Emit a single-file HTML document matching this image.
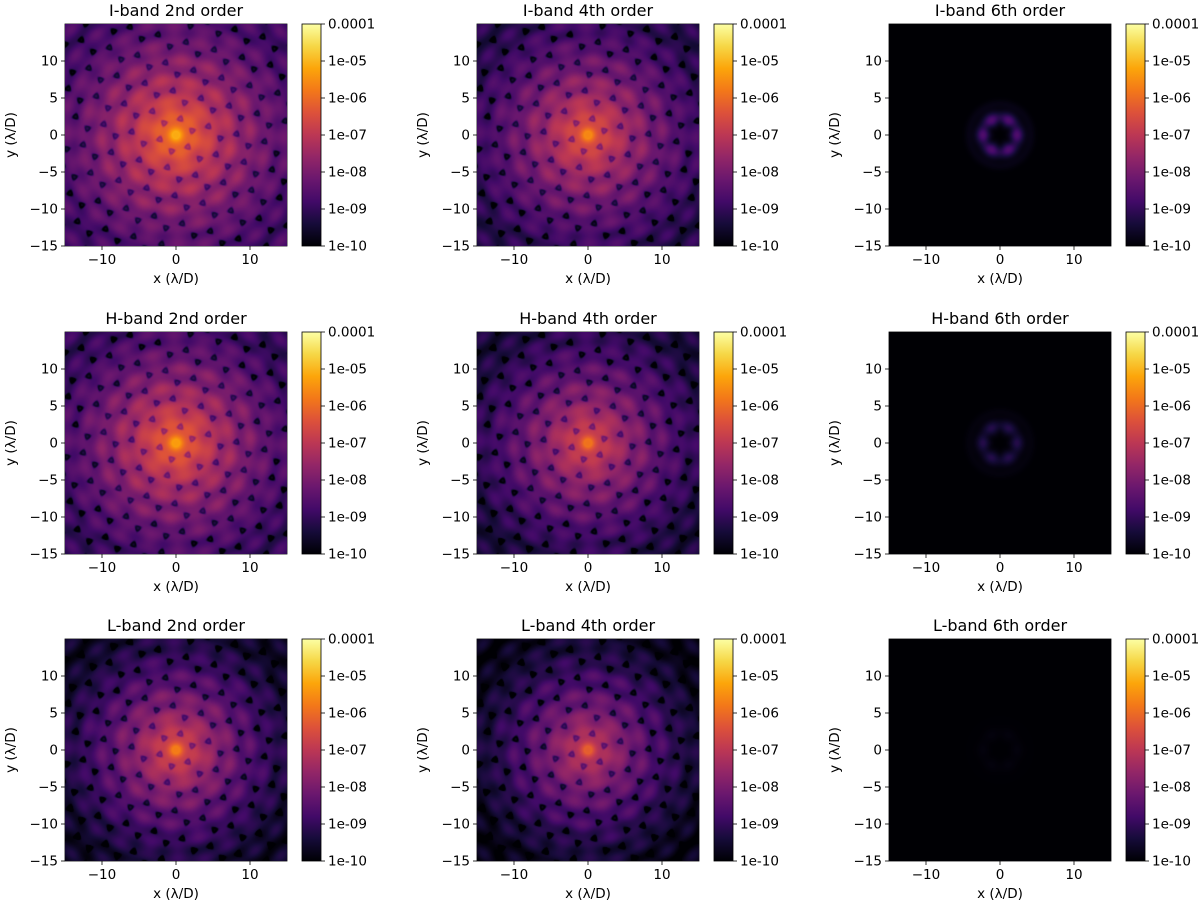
<!DOCTYPE html>
<html><head><meta charset="utf-8">
<style>
body{margin:0;background:#fff;width:1200px;height:907px;overflow:hidden;position:relative;font-family:"DejaVu Sans","Liberation Sans",sans-serif}
canvas{position:absolute}
svg{position:absolute;left:0;top:0}
</style></head>
<body>
<svg id="ov" width="1200" height="907"></svg>
<script>
// panel data
const titles=["I-band 2nd order","I-band 4th order","I-band 6th order","H-band 2nd order","H-band 4th order","H-band 6th order","L-band 2nd order","L-band 4th order","L-band 6th order"];
const centerLog=[-4.5,-5.0,-10,-4.7,-5.3,-10,-5.1,-5.6,-10];
const edgeLog=[-8.5,-8.9,-10,-8.7,-9.1,-10,-9.3,-9.5,-10];
const ringLog=[0,0,-8.6,0,0,-9.2,0,0,-9.9];
const xTicks=[-10,0,10];
const yTicks=[10,5,0,-5,-10,-15];
const cbTicks=["0.0001","1e-05","1e-06","1e-07","1e-08","1e-09","1e-10"];
const colLeft=[65,477,889], rowTop=[24,332,639], S=222;
const infStops=[[0,0,4],[22,11,57],[66,10,104],[106,23,110],[147,38,103],[188,55,84],[221,81,58],[243,120,25],[252,165,10],[246,215,70],[252,255,164]];
function inferno(t){t=Math.max(0,Math.min(1,t));const f=t*10,i=Math.min(9,Math.floor(f)),u=f-i,a=infStops[i],b=infStops[i+1];return [a[0]+(b[0]-a[0])*u,a[1]+(b[1]-a[1])*u,a[2]+(b[2]-a[2])*u];}
const xs=v=>(v+15)/30*S, ys=v=>(15-v)/30*S;
const NS="http://www.w3.org/2000/svg", ov=document.getElementById('ov');
function el(tag,attrs,txt){const e=document.createElementNS(NS,tag);for(const k in attrs)e.setAttribute(k,attrs[k]);if(txt!==undefined)e.textContent=txt;ov.appendChild(e);return e;}
const defs=el('defs',{});
const lg=document.createElementNS(NS,'linearGradient');lg.setAttribute('id','inf');lg.setAttribute('x1','0');lg.setAttribute('y1','1');lg.setAttribute('x2','0');lg.setAttribute('y2','0');
infStops.forEach((s,i)=>{const st=document.createElementNS(NS,'stop');st.setAttribute('offset',i/10);st.setAttribute('stop-color',`rgb(${s})`);lg.appendChild(st);});
defs.appendChild(lg);
const K=2*Math.PI/3.4;
for(let p=0;p<9;p++){
  const L=colLeft[p%3], T=rowTop[Math.floor(p/3)];
  const cv=document.createElement('canvas');cv.width=S;cv.height=S;cv.style.left=L+'px';cv.style.top=T+'px';
  
  
  document.body.appendChild(cv);
  const ctx=cv.getContext('2d'),img=ctx.createImageData(S,S);
  for(let j=0;j<S;j++)for(let i=0;i<S;i++){
    const x=-15+(i+0.5)*30/S, y=15-(j+0.5)*30/S, r=Math.hypot(x,y);
    let lv;
    if(ringLog[p]){
      const th=Math.atan2(y,x);
      lv=-10+(ringLog[p]+10)*Math.exp(-Math.pow((r-2.3)/0.9,2))*(0.8+0.2*Math.cos(6*th));
      lv+= (ringLog[p]+10)*0.12*Math.exp(-Math.pow((r-4.2)/0.6,2));
    } else {
      let s=0;for(let k=0;k<3;k++){const a=k*Math.PI/3+0.26;s+=Math.cos(K*(x*Math.cos(a)+y*Math.sin(a)));}
      s/=3;
      const ring=Math.cos(2*Math.PI*r/2.5);
      const base=centerLog[p]-(centerLog[p]-edgeLog[p])*Math.pow(Math.min(r/15,1.2),0.45);
      lv=base+0.3*s+0.15*ring;
      const dark=Math.exp(-Math.pow((s+0.47)/0.05,2));
      lv-=1.2*dark;
      if(r<0.5)lv-=0.8*(1-r/0.5);
    }
    const c=inferno((lv+10)/6),o=(j*S+i)*4;
    img.data[o]=c[0];img.data[o+1]=c[1];img.data[o+2]=c[2];img.data[o+3]=255;
  }
  ctx.putImageData(img,0,0);
  el('rect',{x:L,y:T,width:S,height:S,fill:'none',stroke:'#000','stroke-width':0.8,});
  el('text',{x:L+S/2,y:T-8,'text-anchor':'middle','font-size':16,},titles[p]);
  xTicks.forEach(v=>{const X=L+xs(v);el('line',{x1:X,y1:T+S,x2:X,y2:T+S+4,stroke:'#000','stroke-width':0.8});
    el('text',{x:X,y:T+S+18,'text-anchor':'middle','font-size':13.5,},String(v).replace('-','−'));});
  yTicks.forEach(v=>{const Y=T+ys(v);el('line',{x1:L-4,y1:Y,x2:L,y2:Y,stroke:'#000','stroke-width':0.8});
    el('text',{x:L-7,y:Y+4.5,'text-anchor':'end','font-size':13.5,},String(v).replace('-','−'));});
  el('text',{x:L+S/2,y:T+S+37,'text-anchor':'middle','font-size':13.5,},'x (λ/D)');
  el('text',{x:0,y:0,'text-anchor':'middle','font-size':13.5,transform:`translate(${L-50},${T+S/2}) rotate(-90)`,},'y (λ/D)');
  const cx=L+237;
  el('rect',{x:cx,y:T,width:19,height:S,fill:'url(#inf)',stroke:'#000','stroke-width':0.8,});
  cbTicks.forEach((t,k)=>{const Y=T+k*S/6;el('line',{x1:cx+19,y1:Y,x2:cx+23,y2:Y,stroke:'#000','stroke-width':0.8});
    el('text',{x:cx+26,y:Y+4.5,'font-size':13.5,},t);});
}
</script>
</body></html>
